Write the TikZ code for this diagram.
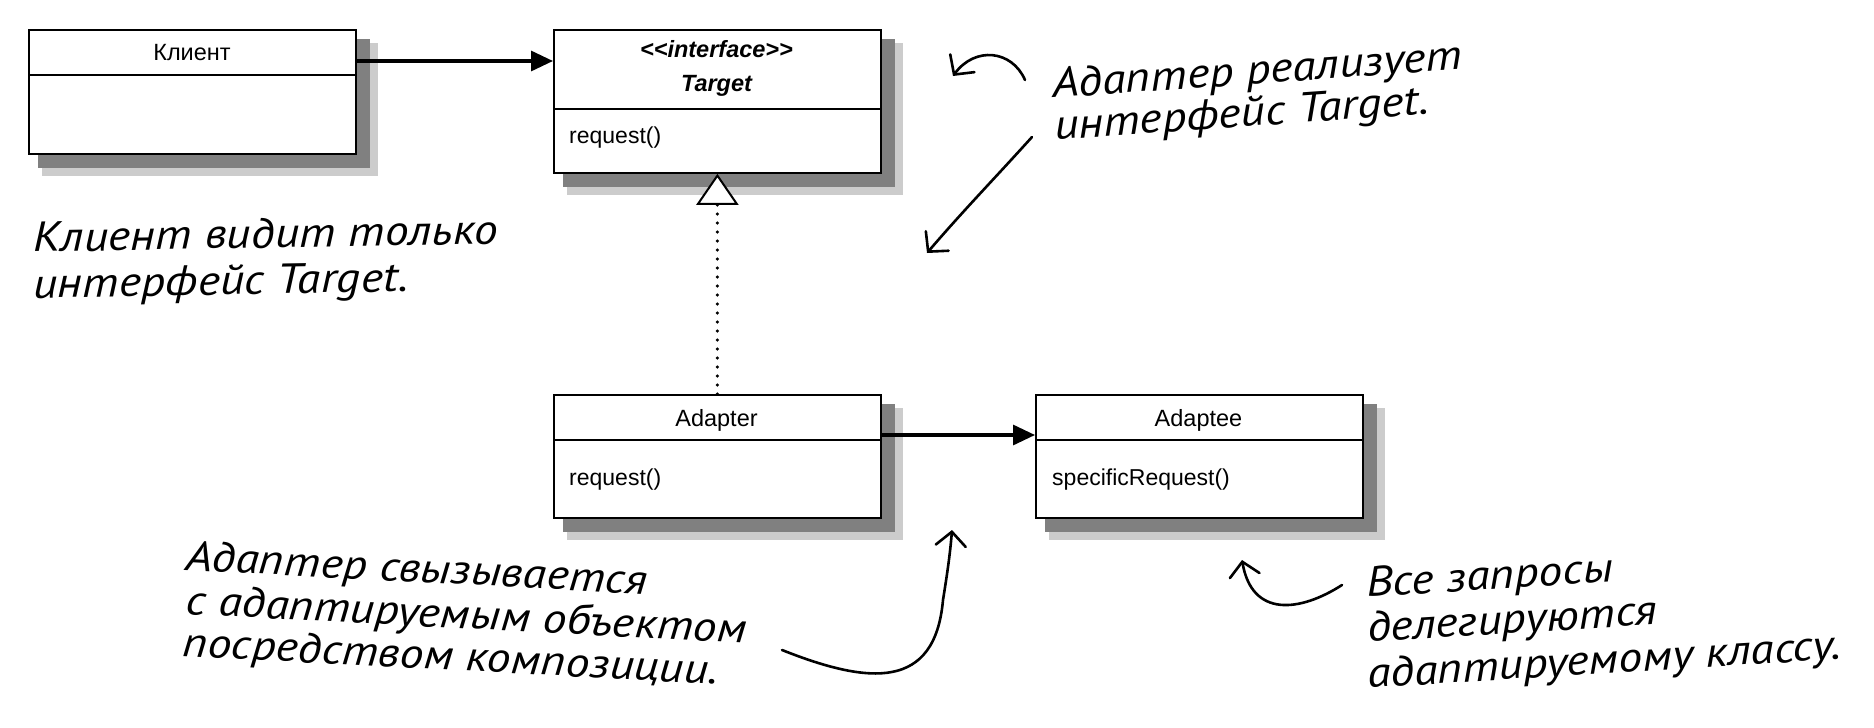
\documentclass[tikz,border=0pt]{standalone}
\usepackage{fontspec}
\setmainfont{Liberation Sans}[Ligatures=NoCommon]
\newfontfamily\handfont{PT Sans}[FakeStretch=1.14]
\usetikzlibrary{arrows.meta}
\pgfdeclarelayer{paper}
\pgfdeclarelayer{shadow}
\pgfsetlayers{paper,shadow,main}
\tikzset{
  classbox/.style={draw=black, line width=1.8pt, fill=white, anchor=north west, inner sep=0pt, minimum width=327pt},
  classname/.style={font=\fontsize{23.5}{30}\selectfont, anchor=base, inner sep=0pt},
  ifacename/.style={font=\fontsize{23.5}{30}\selectfont\bfseries\itshape, anchor=base, inner sep=0pt},
  member/.style={font=\fontsize{23}{28}\selectfont, anchor=base west, inner sep=0pt},
  divider/.style={line width=1.5pt},
  assoc/.style={line width=3.2pt, -{Triangle[length=22pt,width=20pt]}},
  realize/.style={line width=3.5pt, line cap=round, dash pattern=on 0pt off 9pt,
    -{Triangle[length=31pt,width=42pt,fill=white,line width=2pt]}},
  note/.style={font=\handfont\itshape\fontsize{42}{50}\selectfont, anchor=base west, inner sep=0pt},
  handarrow/.style={line width=2.6pt, line cap=round, line join=round,
    -{Straight Barb[length=14pt,width=30pt,line cap=round]}},
}
\begin{document}
\begin{tikzpicture}[x=1pt,y=-1pt]
\begin{pgfonlayer}{paper}
\fill[white] (0,0) rectangle (1874,728);
\end{pgfonlayer}
\useasboundingbox (0,0) rectangle (1874,728);

% class boxes
\node[classbox, minimum height=124pt] (client) at (28,29) {};
\node[classbox, minimum height=143pt] (target) at (553,29) {};
\node[classbox, minimum height=123pt] (adapter) at (553,394) {};
\node[classbox, minimum height=123pt] (adaptee) at (1035,394) {};

% dividers
\draw[divider] (client.west |- 0,75) -- (client.east |- 0,75);
\draw[divider] (target.west |- 0,109) -- (target.east |- 0,109);
\draw[divider] (adapter.west |- 0,440) -- (adapter.east |- 0,440);
\draw[divider] (adaptee.west |- 0,440) -- (adaptee.east |- 0,440);

% class texts
\node[classname] (clientname) at (192,60) {Клиент};
\node[ifacename] (stereo) at (716.5,57) {{<}{<}interface{>}{>}};
\node[ifacename] (targetname) at (716.5,91) {Target};
\node[member] (targetop) at (569,143) {request()};
\node[classname] (adaptername) at (716.5,426) {Adapter};
\node[member] (adapterop) at (569,485) {request()};
\node[classname] (adapteename) at (1198.5,426) {Adaptee};
\node[member] (adapteeop) at (1052,485) {specificRequest()};

% shadows
\begin{pgfonlayer}{shadow}
\foreach \n in {client,target,adapter,adaptee}{
  \fill[black!20] ([shift={(14,14)}]\n.north west) rectangle ([shift={(21,21)}]\n.south east);
  \fill[black!50] ([shift={(10,10)}]\n.north west) rectangle ([shift={(13,13)}]\n.south east);
}
\end{pgfonlayer}

% connectors
\draw[assoc] (client.east |- 0,61) -- (target.west |- 0,61);
\draw[assoc] (adapter.east |- 0,435) -- (adaptee.west |- 0,435);
\draw[realize] (adapter.north) -- (target.south);

% notes
\node[note, rotate=1] (n1a) at (33,252) {Клиент видит только};
\node[note, rotate=1] (n1b) at (33,298) {интерфейс Target.};
\node[note, rotate=4] (n2a) at (1053,98) {Адаптер реализует};
\node[note, rotate=4] (n2b) at (1055,140) {интерфейс Target.};
\node[note, rotate=-3] (n3a) at (185,570) {Адаптер свызывается};
\node[note, rotate=-3] (n3b) at (185,614) {с адаптируемым объектом};
\node[note, rotate=-3] (n3c) at (182,656) {посредством композиции.};
\node[note, rotate=3.5] (n4a) at (1367,597) {Все запросы};
\node[note, rotate=3.5] (n4b) at (1368,642) {делегируются};
\node[note, rotate=3.5] (n4c) at (1368,688) {адаптируемому классу.};

% hand-drawn arrows
\coordinate (a1s) at (1025,80);  \coordinate (a1e) at (953,76);
\coordinate (a2s) at (1032,137); \coordinate (a2e) at (927,253);
\coordinate (a3s) at (782,650);  \coordinate (a3m) at (943,600); \coordinate (a3e) at (952,530);
\coordinate (a4s) at (1342,585); \coordinate (a4e) at (1242,560);
\draw[handarrow] (a1s) .. controls (1012,50) and (975,46) .. (a1e);
\draw[handarrow] (a2s) .. controls (995,178) and (962,212) .. (a2e);
\draw[handarrow] (a3s) .. controls (870,685) and (935,690) .. (a3m) .. controls (947,575) and (950,555) .. (a3e);
\draw[handarrow] (a4s) .. controls (1300,612) and (1252,618) .. (a4e);
\end{tikzpicture}
\end{document}
